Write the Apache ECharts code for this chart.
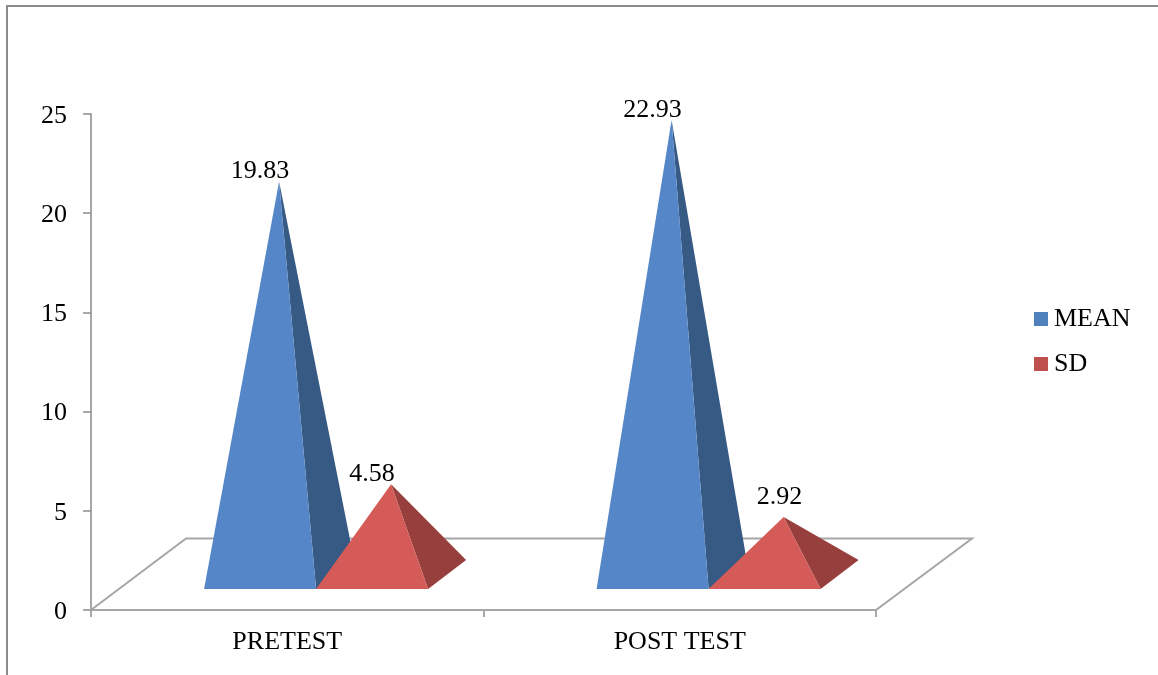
<!DOCTYPE html>
<html>
<head>
<meta charset="utf-8">
<title>Pretest and post test</title>
<script src="https://cdn.jsdelivr.net/npm/echarts@6/dist/echarts.min.js"></script>
<style>
  html, body { margin: 0; padding: 0; background: #fff; }
  #chart { width: 1158px; height: 675px; }
</style>
</head>
<body>
<div id="chart"></div>
<script>
var categories = ['PRETEST', 'POST TEST']
var meanValues = [19.83, 22.93]
var sdValues = [4.58, 2.92]
var yTicks = [0, 5, 10, 15, 20, 25]

var FONT = '"Liberation Serif", "Times New Roman", serif'
var AXIS_GREY = '#a6a6a6'

// fake 3d set up, in pixels / fractions of a category band
var halfBase = 0.1427 // half of a pyramid's front edge, of the band
var bandShift = 0.0735 // where the two pyramids touch, right of the band centre
var depthX = 38
var depthY = 29
var lift = 21 // front edge above the axis
var apexLift = 35 // apex above its value on the axis

// label nudges so they sit where the original put them
var labelNudge = {
  MEAN: [[0, -10], [0, -10]],
  SD: [[0, -10], [15, -20]]
}

function floorItem(params, api) {
  var cs = params.coordSys
  var left = cs.x
  var right = cs.x + cs.width
  var y = api.coord([0, 0])[1]
  var top = y - 71.5
  return {
    type: 'polygon',
    shape: { points: [[left, y], [left + 95, top], [right + 96, top], [right, y]] },
    style: { fill: '#fff', stroke: AXIS_GREY, lineWidth: 2 }
  }
}

function pyramidRenderer(name, side, front, sideColor) {
  return function(params, api) {
    var i = api.value(0)
    var v = api.value(1)
    var band = api.size([1, 0])[0]
    var cx = api.coord([i, 0])[0] + band * bandShift
    var half = band * halfBase
    var mid = side * half + cx
    var baseY = api.coord([i, 0])[1] - lift
    var apex = [mid + depthX / 2, api.coord([i, v])[1] - apexLift]
    var nudge = labelNudge[name][i]
    return {
      type: 'group',
      children: [
        {
          type: 'polygon',
          shape: { points: [apex, [mid + half, baseY], [mid + half + depthX, baseY - depthY]] },
          style: { fill: sideColor }
        },
        {
          type: 'polygon',
          shape: { points: [[mid - half, baseY], [mid + half, baseY], apex] },
          style: { fill: front }
        },
        {
          type: 'text',
          style: {
            text: v.toFixed(2),
            x: mid + nudge[0],
            y: apex[1] + nudge[1],
            align: 'center',
            verticalAlign: 'middle',
            fill: '#000',
            font: '26px ' + FONT
          }
        }
      ]
    }
  }
}

function toPoints(values) {
  return values.map(function(v, i) { return [i, v] })
}

var chart = echarts.init(document.getElementById('chart'))
chart.setOption({
  animation: false,
  backgroundColor: '#fff',
  grid: { left: 91, right: 282, top: 114, bottom: 65 },
  legend: {
    orient: 'vertical',
    left: 1029,
    top: 301,
    itemWidth: 14,
    itemHeight: 14,
    itemGap: 19,
    icon: 'rect',
    data: ['MEAN', 'SD'],
    textStyle: { fontFamily: FONT, fontSize: 26, color: '#000', padding: [0, 0, 0, 1] }
  },
  xAxis: {
    type: 'category',
    data: categories,
    axisLine: { lineStyle: { color: AXIS_GREY, width: 2 } },
    axisTick: { show: true, alignWithLabel: false, length: 7, lineStyle: { color: '#8c8c8c', width: 1.5 } },
    axisLabel: { color: '#000', fontFamily: FONT, fontSize: 26, margin: 19 },
    splitLine: { show: false }
  },
  yAxis: {
    type: 'value',
    min: yTicks[0],
    max: yTicks[yTicks.length - 1],
    interval: 5,
    axisLine: { show: true, lineStyle: { color: AXIS_GREY, width: 2 } },
    axisTick: { show: true, length: 8, lineStyle: { color: '#8c8c8c', width: 1.5 } },
    // small lineHeight with top align drops the numbers 2px below the tick, as in the original
    axisLabel: { color: '#000', fontFamily: FONT, fontSize: 26, margin: 24, verticalAlign: 'top', lineHeight: 4 },
    splitLine: { show: false }
  },
  graphic: [
    {
      type: 'polyline',
      silent: true,
      shape: { points: [[7, 675], [7, 6], [1158, 6]] },
      style: { fill: 'none', stroke: '#8c8c8c', lineWidth: 2 }
    }
  ],
  series: [
    {
      name: 'floor',
      type: 'custom',
      silent: true,
      renderItem: floorItem,
      data: [[0, 0]],
      encode: { x: 0, y: 1 }
    },
    {
      name: 'MEAN',
      type: 'custom',
      renderItem: pyramidRenderer('MEAN', -1, '#5587c8', '#375a85'),
      itemStyle: { color: '#4f81bd' },
      data: toPoints(meanValues),
      encode: { x: 0, y: 1 }
    },
    {
      name: 'SD',
      type: 'custom',
      renderItem: pyramidRenderer('SD', 1, '#d55b58', '#973f3c'),
      itemStyle: { color: '#c0504d' },
      data: toPoints(sdValues),
      encode: { x: 0, y: 1 }
    }
  ]
})
</script>
</body>
</html>
